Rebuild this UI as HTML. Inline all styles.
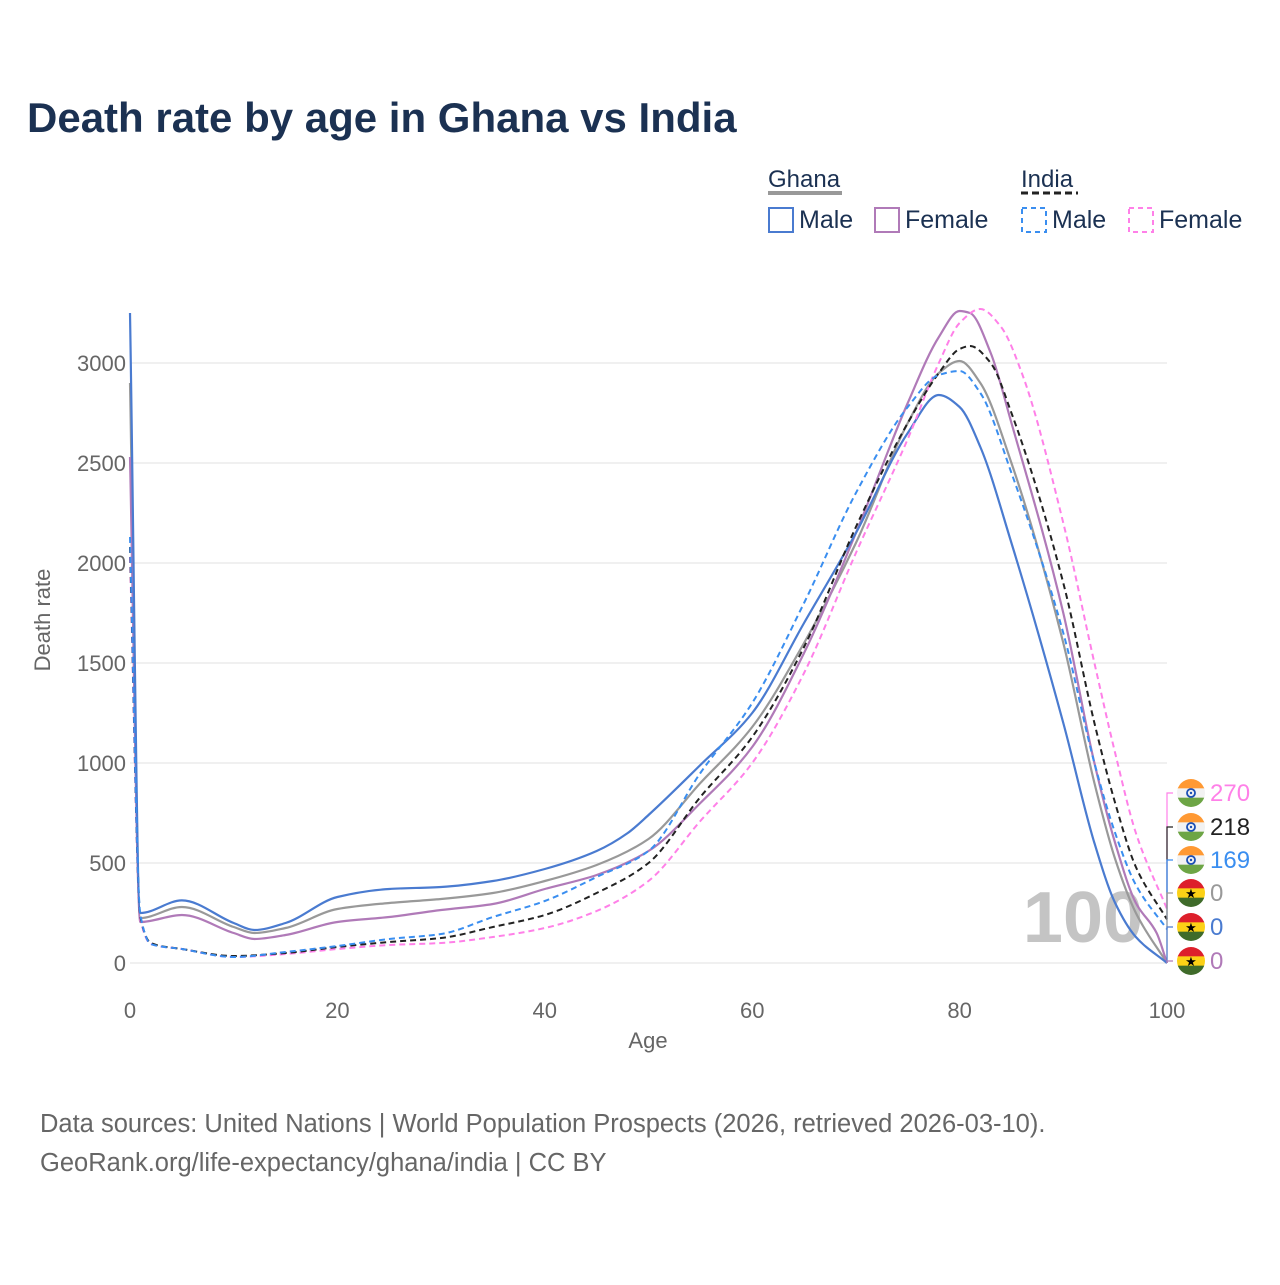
<!DOCTYPE html>
<html><head><meta charset="utf-8"><style>
body{margin:0;background:#fff;font-family:"Liberation Sans",sans-serif;}
svg text{font-family:"Liberation Sans",sans-serif;}
</style></head><body>
<svg id="chart" width="1280" height="1280" viewBox="0 0 1280 1280" xmlns="http://www.w3.org/2000/svg">
<text x="27" y="132" font-size="42" font-weight="bold" fill="#1b3152">Death rate by age in Ghana vs India</text>
<g>
 <text x="768" y="187" font-size="24" fill="#1b3152">Ghana</text>
 <line x1="768" y1="193" x2="842" y2="193" stroke="#999" stroke-width="4"/>
 <text x="1021" y="187" font-size="24" fill="#1b3152">India</text>
 <line x1="1021" y1="193" x2="1078" y2="193" stroke="#222" stroke-width="3" stroke-dasharray="7,4"/>
 <rect x="769" y="208" width="24" height="24" fill="none" stroke="#4a7bd0" stroke-width="2"/>
 <text x="799" y="228" font-size="25" fill="#1b3152">Male</text>
 <rect x="875" y="208" width="24" height="24" fill="none" stroke="#b07ab8" stroke-width="2"/>
 <text x="905" y="228" font-size="25" fill="#1b3152">Female</text>
 <rect x="1022" y="208" width="24" height="24" fill="none" stroke="#3a8ef0" stroke-width="2" stroke-dasharray="5,4"/>
 <text x="1052" y="228" font-size="25" fill="#1b3152">Male</text>
 <rect x="1129" y="208" width="24" height="24" fill="none" stroke="#ff80e8" stroke-width="2" stroke-dasharray="5,4"/>
 <text x="1159" y="228" font-size="25" fill="#1b3152">Female</text>
</g>
<g id="grid"></g>
<text x="1083" y="942" font-size="72" font-weight="bold" fill="#c4c4c4" text-anchor="middle">100</text>
<g id="series"></g>
<g id="endlabels"></g>
<text x="648" y="1048" font-size="22" fill="#666" text-anchor="middle">Age</text>
<text transform="translate(50,620) rotate(-90)" font-size="22" fill="#666" text-anchor="middle">Death rate</text>
<text x="40" y="1132" font-size="25.5" fill="#666">Data sources: United Nations | World Population Prospects (2026, retrieved 2026-03-10).</text>
<text x="40" y="1171" font-size="25.5" fill="#666">GeoRank.org/life-expectancy/ghana/india | CC BY</text>
</svg>
<script>
const yTicks=[0,500,1000,1500,2000,2500,3000];
const xTicks=[0,20,40,60,80,100];
const ghMaleAges=[0,1,5,10,12,15,20,25,30,35,40,45,48,50,55,60,65,70,75,78,80,82,85,90,93,95,97,100];
const ghMale=[3250,250,313,200,165,200,330,370,380,410,470,560,650,740,990,1250,1700,2150,2650,2840,2780,2580,2100,1200,600,300,130,0];
const ghTotAges=[0,1,5,10,12,15,20,25,30,35,40,45,50,55,60,65,70,75,78,80,82,85,90,93,95,97,100];
const ghTot=[2900,225,280,180,150,175,270,300,320,350,410,490,620,900,1180,1600,2100,2700,2950,3010,2900,2500,1600,900,520,250,0];
const ghFemAges=[0,1,5,10,12,15,20,25,30,35,40,45,50,55,60,65,70,75,78,80,81,83,85,90,93,95,97,99,100];
const ghFem=[2530,205,240,150,120,140,205,230,265,295,370,440,560,800,1080,1550,2150,2800,3130,3260,3250,3050,2700,1750,1000,600,300,150,0];
const inTotAges=[0,1,2,5,10,15,20,25,30,35,40,45,50,55,60,65,70,75,78,80,81,83,85,90,93,95,97,100];
const inTot=[2080,230,100,70,35,50,80,105,125,180,240,350,500,830,1130,1580,2180,2700,2950,3070,3085,3000,2750,1900,1200,800,480,218];
const inMaleAges=[0,1,2,5,10,15,20,25,30,35,40,45,50,55,60,65,70,75,78,80,82,85,90,93,95,97,100];
const inMale=[2130,240,95,70,30,55,85,120,145,230,310,430,560,950,1300,1800,2350,2780,2940,2960,2850,2450,1650,1000,650,390,169];
const inFemAges=[0,1,2,5,10,15,20,25,30,35,40,45,50,55,60,65,70,75,78,80,82,84,86,90,93,95,97,100];
const inFem=[2030,220,95,70,30,45,70,90,100,130,175,260,410,710,1000,1450,2050,2620,3000,3200,3270,3180,2950,2200,1500,1050,650,270];

const X=a=>130+a*10.37, Y=v=>963-v*0.2;
const NS="http://www.w3.org/2000/svg";
function mk(t,attrs,parent){const e=document.createElementNS(NS,t);for(const k in attrs)e.setAttribute(k,attrs[k]);parent.appendChild(e);return e;}
const grid=document.getElementById('grid');
yTicks.forEach(v=>{
 const l=mk('line',{x1:130,x2:1167,y1:Y(v),y2:Y(v),stroke:'#ebebeb','stroke-width':1.5},grid);
 
 
 const t=mk('text',{x:126,y:Y(v)+8,'font-size':22,fill:'#666','text-anchor':'end'},grid);
 t.textContent=v;
 
 
});
xTicks.forEach(a=>{
 const t=mk('text',{x:X(a),y:1018,'font-size':22,fill:'#666','text-anchor':'middle'},grid);
 t.textContent=a;
 
 
});
// monotone cubic (Fritsch-Carlson)
function pathD(ages,vals){
 const xs=ages.map(X), ys=vals.map(Y), n=xs.length;
 const d=[],m=new Array(n);
 for(let i=0;i<n-1;i++)d.push((ys[i+1]-ys[i])/(xs[i+1]-xs[i]));
 m[0]=d[0];m[n-1]=d[n-2];
 for(let i=1;i<n-1;i++){
  if(d[i-1]*d[i]<=0)m[i]=0;
  else{const h0=xs[i]-xs[i-1],h1=xs[i+1]-xs[i];const w1=2*h1+h0,w2=h1+2*h0;m[i]=(w1+w2)/(w1/d[i-1]+w2/d[i]);}
 }
 let s='M'+xs[0]+','+ys[0];
 for(let i=0;i<n-1;i++){
  const h=(xs[i+1]-xs[i])/3;
  s+=` C${xs[i]+h},${ys[i]+m[i]*h} ${xs[i+1]-h},${ys[i+1]-m[i+1]*h} ${xs[i+1]},${ys[i+1]}`;
 }
 return s;
}
const sg=document.getElementById('series');
const series=[
 ['ghana-total-line',ghTotAges,ghTot,'#999','',2.2],
 ['ghana-female-line',ghFemAges,ghFem,'#b07ab8','',2.2],
 ['ghana-male-line',ghMaleAges,ghMale,'#4a7bd0','',2.2],
 ['india-female-line',inFemAges,inFem,'#ff80e8','6,4',2],
 ['india-total-line',inTotAges,inTot,'#222','6,4',2],
 ['india-male-line',inMaleAges,inMale,'#3a8ef0','6,4',2]
];
series.forEach(s=>{
 const p=mk('path',{d:pathD(s[1],s[2]),fill:'none',stroke:s[3],'stroke-width':s[5],'stroke-dasharray':s[4]},sg);
 
 
});
const eg=document.getElementById('endlabels');
const ends=[
 ['india-female',inFem[inFem.length-1],'#ff80e8','in',793],
 ['india-total',inTot[inTot.length-1],'#222','in',827],
 ['india-male',inMale[inMale.length-1],'#3a8ef0','in',860],
 ['ghana-total',ghTot[ghTot.length-1],'#999','gh',893],
 ['ghana-male',ghMale[ghMale.length-1],'#4a7bd0','gh',927],
 ['ghana-female',ghFem[ghFem.length-1],'#b07ab8','gh',961]
];
ends.forEach(e=>{
 const yv=Y(e[1]);
 const c=mk('polyline',{points:`1167,${yv} 1167,${e[4]} 1173,${e[4]}`,fill:'none',stroke:e[2],'stroke-width':1.2},eg);
 
 
 const g=mk('g',{},eg);
 
 
 const cx=1191,cy=e[4],r=14;
 const cid='clip'+e[0];
 const cp=mk('clipPath',{id:cid},g);mk('circle',{cx,cy,r},cp);
 const cols=e[3]==='in'?['#ff9933','#f2f2f2','#6da545']:['#dd1f2b','#fcd116','#3f6b2a'];
 cols.forEach((col,i)=>mk('rect',{x:cx-r,y:cy-r+i*r*2/3,width:2*r,height:r*2/3+0.5,fill:col,'clip-path':`url(#${cid})`},g));
 if(e[3]==='in'){mk('circle',{cx,cy,r:4,fill:'none',stroke:'#1b4fb5','stroke-width':1.8},g);mk('circle',{cx,cy,r:1.2,fill:'#1b4fb5'},g);}
 else{const t=mk('text',{x:cx,y:cy+5,'font-size':13,'text-anchor':'middle',fill:'#000'},g);t.textContent='★';}
 const t=mk('text',{x:1210,y:e[4]+8,'font-size':24,fill:e[2]},eg);
 t.textContent=e[1];
 
 
});
</script>
</body></html>
